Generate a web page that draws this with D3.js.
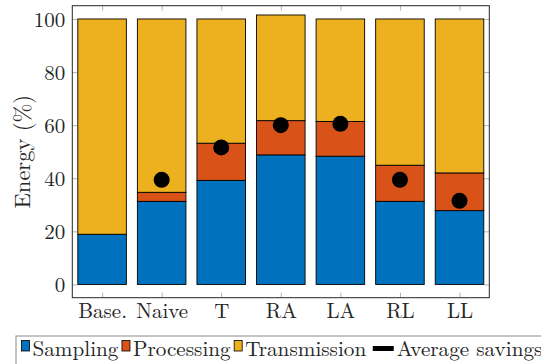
<!DOCTYPE html>
<html><head><meta charset="utf-8">
<script src="https://cdn.jsdelivr.net/npm/d3@7"></script>
<style>body{margin:0;background:#fff;} svg{display:block;}</style>
</head><body>
<script>
const categories = ["Base.","Naive","T","RA","LA","RL","LL"];
const sampling = [18.9, 31.3, 39.2, 48.8, 48.3, 31.3, 27.8];
const processing = [0, 3.4, 14.0, 12.9, 13.1, 13.6, 14.2];
const transmission = [81.1, 65.3, 46.8, 39.8, 38.6, 55.1, 58.0];
const savings = [null, 39.4, 51.6, 60.0, 60.5, 39.4, 31.5];
const yTicks = [0, 20, 40, 60, 80, 100];
const seriesNames = ["Sampling","Processing","Transmission"];
const colors = ["#0072BD","#D95319","#EDB120"];
const FONT = '"Latin Modern Roman","CMU Serif","Liberation Serif",serif';
const FS = 21, FSG = 21.2, FSL = 22.5;

const W = 541, H = 364;
const L = 72.3, R = 489.3, T = 5.7, B = 297.7;
const svg = d3.select("body").append("svg").attr("width", W).attr("height", H);

const x = d3.scaleLinear().domain([0.5, categories.length + 0.5]).range([L, R]);
const y = d3.scaleLinear().domain([-5, 105]).range([B, T]);
const bw = (x(1.815) - x(1));

const rows = categories.map((c, i) => ({i, Sampling: sampling[i], Processing: processing[i], Transmission: transmission[i]}));
const stack = d3.stack().keys(seriesNames)(rows);

svg.append("rect").attr("x", L).attr("y", T).attr("width", R - L).attr("height", B - T).attr("fill", "#fff");

// axes (ticks drawn inside)
const tickLen = 5;
const gL = svg.append("g").attr("transform", `translate(${L},0)`)
  .call(d3.axisLeft(y).tickValues(yTicks).tickSize(-tickLen).tickPadding(7));
const gR = svg.append("g").attr("transform", `translate(${R},0)`)
  .call(d3.axisRight(y).tickValues(yTicks).tickSize(-tickLen).tickFormat(""));
const gB = svg.append("g").attr("transform", `translate(0,${B})`)
  .call(d3.axisBottom(x).tickValues(d3.range(1, categories.length + 1)).tickFormat(d => categories[d - 1]).tickSize(-tickLen).tickPadding(5.5));
const gT = svg.append("g").attr("transform", `translate(0,${T})`)
  .call(d3.axisTop(x).tickValues(d3.range(1, categories.length + 1)).tickSize(-tickLen).tickFormat(""));
[gL, gR, gB, gT].forEach(g => {
  g.select(".domain").remove();
  g.selectAll(".tick line").attr("stroke", "#a0a0a0").attr("stroke-width", 0.8);
  g.selectAll("text").attr("font-size", FS).style("font-family", FONT).attr("fill", "#262626");
});
gL.selectAll("text").attr("dy", "0.36em");

stack.forEach((s, k) => {
  svg.append("g").selectAll("rect").data(s).join("rect")
    .attr("x", d => x(d.data.i + 1) - bw / 2)
    .attr("width", bw)
    .attr("y", d => y(d[1]))
    .attr("height", d => y(d[0]) - y(d[1]))
    .attr("fill", colors[k])
    .attr("stroke", "#000").attr("stroke-width", 0.9);
});

svg.append("g").selectAll("circle").data(savings.map((v, i) => ({v, i})).filter(d => d.v != null)).join("circle")
  .attr("cx", d => x(d.i + 1)).attr("cy", d => y(d.v)).attr("r", 8).attr("fill", "#000");

svg.append("rect").attr("x", L).attr("y", T).attr("width", R - L).attr("height", B - T)
  .attr("fill", "none").attr("stroke", "#262626").attr("stroke-width", 1);

svg.append("text").attr("transform", `translate(29.5,${(T + B) / 2}) rotate(-90)`)
  .attr("text-anchor", "middle").attr("font-size", FSL).style("font-family", FONT).attr("fill", "#262626").text("Energy (%)");

// legend
const lg = svg.append("g");
lg.append("rect").attr("x", 16).attr("y", 336).attr("width", 540).attr("height", 40)
  .attr("fill", "#fff").attr("stroke", "#8a8a8a").attr("stroke-width", 1);
let cursor = 21.5;
seriesNames.forEach((name, k) => {
  lg.append("rect").attr("x", cursor).attr("y", 340.5).attr("width", 8).attr("height", 10.5)
    .attr("fill", colors[k]).attr("stroke", "#000").attr("stroke-width", 0.8);
  const t = lg.append("text").attr("x", cursor + 11).attr("y", 356.3).attr("font-size", FSG)
    .style("font-family", FONT).attr("fill", "#262626").text(name);
  cursor = cursor + 11 + t.node().getComputedTextLength() + 3.5;
});
cursor += 3;
lg.append("line").attr("x1", cursor).attr("x2", cursor + 21).attr("y1", 348.5).attr("y2", 348.5)
  .attr("stroke", "#000").attr("stroke-width", 5);
lg.append("text").attr("x", cursor + 24).attr("y", 356.3).attr("font-size", FSG)
  .style("font-family", FONT).attr("fill", "#262626").text("Average savings");
</script>
</body></html>
